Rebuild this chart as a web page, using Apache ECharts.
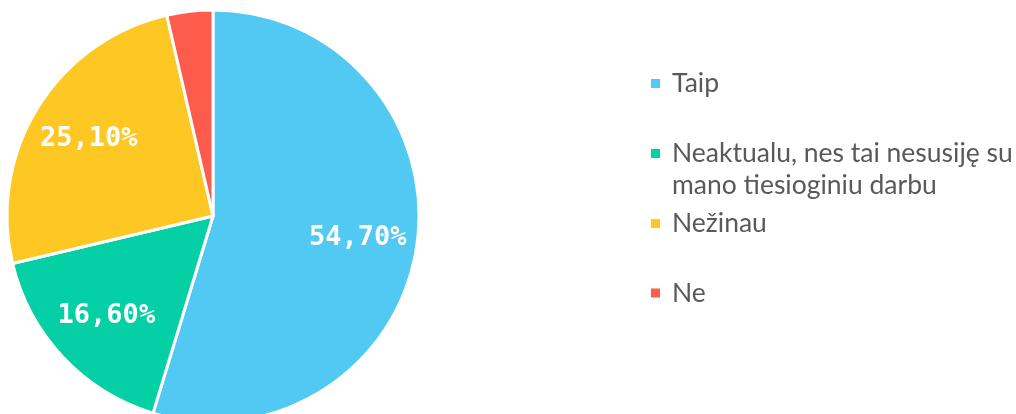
<!DOCTYPE html>
<html>
<head>
<meta charset="utf-8">
<script src="https://cdn.jsdelivr.net/npm/echarts@6/dist/echarts.min.js"></script>
<style>
html,body{margin:0;padding:0;background:#fff;}
#c{width:1016px;height:414px;}
</style>
</head>
<body>
<div id="c"></div>
<script>
const categories = ["Taip", "Neaktualu, nes tai nesusiję su mano tiesioginiu darbu", "Nežinau", "Ne"];
const values = [54.7, 16.6, 25.1, 3.6];
const colors = ["#52C9F2", "#05CFA5", "#FEC824", "#FD5B4B"];

const CX = 213, CY = 216, R = 206;
const chart = echarts.init(document.getElementById('c'));

const LH = 32;
const legendCenters = [83.5, 153.5, 223.5, 293];
const legends = categories.map((name, i) => {
  const multi = i === 1;
  return {
    orient: 'vertical',
    left: 644,
    top: legendCenters[i] - 5 - (multi ? LH * 1.5 : LH / 2),
    data: [name],
    icon: 'rect',
    itemWidth: 11,
    itemHeight: 11,
    selectedMode: false,
    formatter: n => multi ? ' \nNeaktualu, nes tai nesusiję su\nmano tiesioginiu darbu' : n,
    textStyle: {
      fontFamily: 'Lato',
      fontSize: 26.5,
      color: '#595959',
      lineHeight: LH,
      padding: [0, 0, 0, 6]
    }
  };
});

chart.setOption({
  animation: false,
  color: colors,
  legend: legends,
  series: [{
    type: 'pie',
    center: [CX, CY],
    radius: R,
    startAngle: 90,
    clockwise: true,
    data: categories.map((n, i) => ({ name: n, value: values[i] })),
    itemStyle: { borderColor: '#fff', borderWidth: 3 },
    label: {
      show: true,
      position: 'inside',
      formatter: p => p.value < 5 ? '' : p.value.toFixed(2).replace('.', ',') + '%',
      fontFamily: 'DejaVu Sans Mono',
      fontSize: 27,
      fontWeight: 'bold',
      color: '#fff'
    },
    labelLine: { show: false },
    emphasis: { disabled: true },
    labelLayout: function (p) {
      const r = p.labelRect;
      const lx = r.x + r.width / 2, ly = r.y + r.height / 2;
      const k = 1.38;
      return { dx: (lx - CX) * (k - 1), dy: (ly - CY) * (k - 1) };
    }
  }]
});
</script>
</body>
</html>
